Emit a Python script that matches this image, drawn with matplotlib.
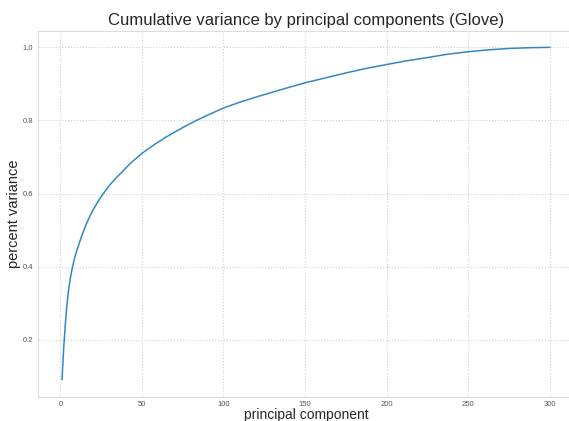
import matplotlib
matplotlib.use('Agg')
import matplotlib.pyplot as plt

# cumulative explained variance
components = [1, 2, 3, 4, 5, 6, 7, 8, 9, 10, 12, 14, 16, 18, 20, 23, 26, 30, 34, 38, 43,
              50, 55, 60, 65, 70, 76, 82, 90, 100, 110, 120, 135, 150, 162, 175, 187,
              200, 212, 225, 237, 250, 262, 275, 287, 300]
cum_variance = [0.091, 0.175, 0.24, 0.295, 0.335, 0.365, 0.39, 0.41, 0.428, 0.443,
                0.47, 0.495, 0.518, 0.537, 0.555, 0.578, 0.598, 0.622, 0.642, 0.66, 0.683,
                0.71, 0.726, 0.741, 0.755, 0.768, 0.783, 0.797, 0.814, 0.834, 0.85, 0.864,
                0.884, 0.903, 0.916, 0.93, 0.942, 0.953, 0.963, 0.972, 0.981, 0.988,
                0.993, 0.997, 0.999, 1.0]

plt.rcParams['font.family'] = ['Liberation Sans', 'DejaVu Sans']

fig = plt.figure(figsize=(5.69, 4.21), dpi=100)
ax = fig.add_axes([0.066, 0.058, 0.943, 0.869])

ax.plot(components, cum_variance, color='#3288c3', linewidth=1.1)
ax.set_xlim(-14, 315)
ax.set_ylim(0.0445, 1.0455)
ax.set_xticks([0, 50, 100, 150, 200, 250, 300])
ax.set_yticks([0.2, 0.4, 0.6, 0.8, 1.0])

ax.grid(True, linestyle=':', color='#d2d2d2', linewidth=0.8)
for s in ax.spines.values():
    s.set_color('#dddddd')
ax.tick_params(length=0, labelsize=5.5, labelcolor='#555555', pad=3)

ax.set_title('Cumulative variance by principal components (Glove)', fontsize=12, color='#262626', pad=4)
ax.set_xlabel('principal component', fontsize=10, color='#262626', labelpad=0)
ax.set_ylabel('percent variance', fontsize=10.5, color='#262626', labelpad=1)

fig.savefig('out.png', dpi=100)
